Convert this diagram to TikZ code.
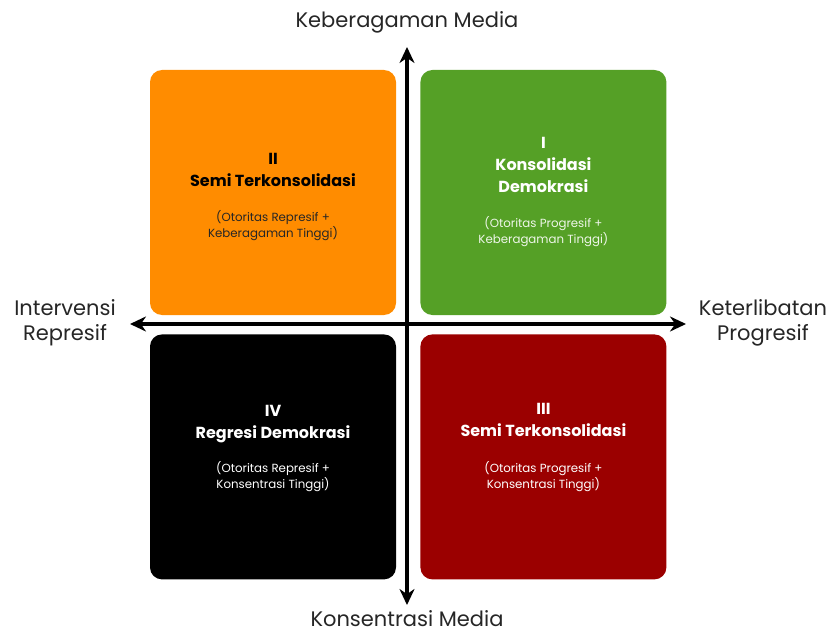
\documentclass[tikz,border=0pt]{standalone}
\usepackage{fontspec}
\setmainfont{Poppins}
\usetikzlibrary{arrows.meta,positioning}
\definecolor{quadorange}{RGB}{255,140,0}
\definecolor{quadgreen}{RGB}{85,160,38}
\definecolor{quadred}{RGB}{155,0,0}

\begin{document}
\begin{tikzpicture}[x=1pt, y=-1pt,
			>={Stealth[length=16pt,width=15pt]},   %Pfeilspitzen
			quad/.style={rounded corners=12pt, minimum width=246pt, minimum height=245pt, inner sep=0pt},
			qtitle/.style={font=\fontsize{16}{22}\selectfont\bfseries, align=center},
			qsub/.style={font=\fontsize{11.8}{16}\selectfont, align=center},
			axlabel/.style={font=\fontsize{21}{25}\selectfont, align=center, text=black!85}]
			%Rahmen
			\useasboundingbox (0,0) rectangle (831,634);
			% Felder
			\node[quad, fill=quadorange] (q2) at (273,192.5) {};
			\node[quad, fill=quadgreen, right=24pt of q2] (q1) {};
			\node[quad, fill=black, below=19pt of q2] (q4) {};
			\node[quad, fill=quadred, right=24pt of q4] (q3) {};
			% Felder beschriften
			\node[qtitle, text=black, yshift=23pt] (t2) at (q2.center) {II\\Semi Terkonsolidasi};
			\node[qsub, text=black!85, yshift=-33.5pt] (s2) at (q2.center) {(Otoritas Represif +\\Keberagaman Tinggi)};
			\node[qtitle, text=white, yshift=27.5pt] (t1) at (q1.center) {I\\Konsolidasi\\Demokrasi};
			\node[qsub, text=white!90!quadgreen, yshift=-39.5pt] (s1) at (q1.center) {(Otoritas Progresif +\\Keberagaman Tinggi)};
			\node[qtitle, text=white, yshift=32.5pt] (t4) at (q4.center) {IV\\Regresi Demokrasi};
			\node[qsub, text=white, yshift=-20pt] (s4) at (q4.center) {(Otoritas Represif +\\Konsentrasi Tinggi)};
			\node[qtitle, text=white, yshift=36.5pt] (t3) at (q3.center) {III\\Semi Terkonsolidasi};
			\node[qsub, text=white, yshift=-20pt] (s3) at (q3.center) {(Otoritas Progresif +\\Konsentrasi Tinggi)};
			% Achsen
			\coordinate (top) at (407,47);
			\coordinate (bottom) at (407,605);
			\coordinate (left) at (130,324);
			\coordinate (right) at (686,324);
			\draw[<->, line width=3.5pt] (left) -- (right);
			\draw[<->, line width=3.5pt] (bottom) -- (top);
			% Achsen beschriften
			\node[axlabel, anchor=base] (ltop) at (407,28) {Keberagaman Media};
			\node[axlabel, anchor=base, inner ysep=0pt] (lbottom) at (407,626) {Konsentrasi Media};
			\node[axlabel] (lleft) at (65,323) {Intervensi\\Represif};
			\node[axlabel] (lright) at (763,323) {Keterlibatan\\Progresif};
		\end{tikzpicture}
\end{document}
